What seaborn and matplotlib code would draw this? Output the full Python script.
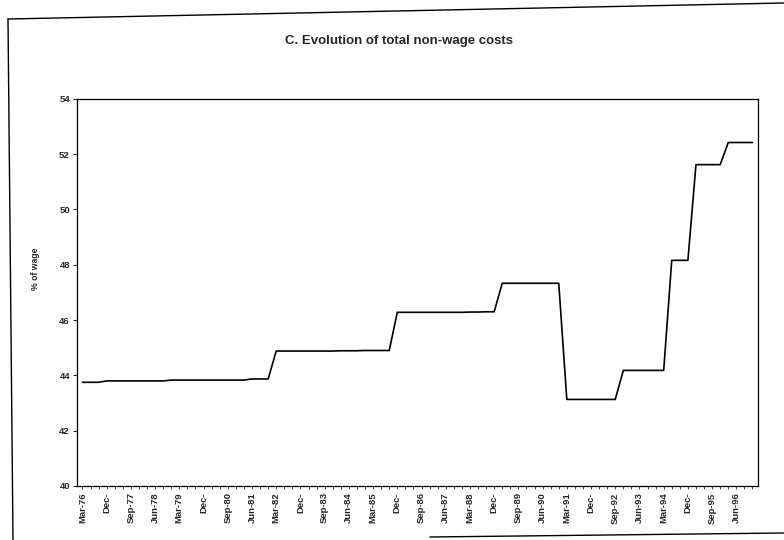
import matplotlib
matplotlib.use('Agg')
import matplotlib.pyplot as plt
import seaborn as sns
import pandas as pd
from matplotlib.lines import Line2D

# labels shown under every third quarter, Mar-76 .. Jun-96
tick_labels = ['Mar-76', 'Dec-', 'Sep-77', 'Jun-78', 'Mar-79', 'Dec-', 'Sep-80',
               'Jun-81', 'Mar-82', 'Dec-', 'Sep-83', 'Jun-84', 'Mar-85', 'Dec-',
               'Sep-86', 'Jun-87', 'Mar-88', 'Dec-', 'Sep-89', 'Jun-90', 'Mar-91',
               'Dec-', 'Sep-92', 'Jun-93', 'Mar-94', 'Dec-', 'Sep-95', 'Jun-96']

# total non-wage costs, % of wage, quarterly Mar-76 .. Dec-96
costs_1976_1981 = [43.75, 43.75, 43.75, 43.80,
                   43.80, 43.80, 43.80, 43.80,
                   43.80, 43.80, 43.80, 43.83,
                   43.83, 43.83, 43.83, 43.83,
                   43.83, 43.83, 43.83, 43.83,
                   43.83, 43.87, 43.87, 43.87]
costs_1982_1987 = [44.88, 44.88, 44.88, 44.88,
                   44.88, 44.88, 44.88, 44.88,
                   44.89, 44.89, 44.89, 44.90,
                   44.90, 44.90, 44.90, 46.28,
                   46.28, 46.28, 46.28, 46.28,
                   46.28, 46.28, 46.28, 46.28]
costs_1988_1993 = [46.29, 46.29, 46.30, 46.30,
                   47.33, 47.33, 47.33, 47.33,
                   47.33, 47.33, 47.33, 47.33,
                   43.13, 43.13, 43.13, 43.13,
                   43.13, 43.13, 43.13, 44.18,
                   44.18, 44.18, 44.18, 44.18]
costs_1994_1996 = [44.18, 48.16, 48.16, 48.16,
                   51.62, 51.62, 51.62, 51.62,
                   52.42, 52.42, 52.42, 52.42]

values = costs_1976_1981 + costs_1982_1987 + costs_1988_1993 + costs_1994_1996
df = pd.DataFrame({'quarter': range(len(values)), 'cost': values})

sns.set_theme(style="ticks")
plt.rcParams['font.family'] = ['Liberation Sans', 'DejaVu Sans']

fig = plt.figure(figsize=(7.84, 5.4), dpi=100)
ax = fig.add_axes([0.098, 0.1, 0.869, 0.717])

sns.lineplot(data=df, x='quarter', y='cost', color='black', linewidth=1.2, ax=ax)

ax.set_xlim(-0.7, 83.7)
ax.set_ylim(40, 54)
ax.set_yticks(range(40, 55, 2))
ax.set_xticks(range(0, len(values)))
labels = [''] * len(values)
for i, lab in enumerate(tick_labels):
    labels[3 * i] = lab
ax.set_xticklabels(labels, rotation=90, fontsize=6.8, fontweight='bold')
ax.tick_params(axis='y', labelsize=6.8, length=3, width=0.8, pad=2)
ax.tick_params(axis='x', length=2.5, width=0.6, pad=2)
for lab in ax.get_yticklabels():
    lab.set_fontweight('bold')

for s in ax.spines.values():
    s.set_visible(True)
    s.set_color('black')
    s.set_linewidth(0.9)

ax.set_xlabel('')
ax.set_ylabel('% of wage', fontsize=6.2, fontweight='bold')
ax.yaxis.set_label_coords(-0.054, 0.56)

fig.text(0.509, 0.924, 'C. Evolution of total non-wage costs', ha='center',
         va='center', fontsize=9.5, fontweight='bold')

# scanned page frame around the chart
fig.add_artist(Line2D([8 / 784, 1.0], [1 - 19 / 540, 1 - 3 / 540], color='black', linewidth=1.0))
fig.add_artist(Line2D([8 / 784, 13 / 784], [1 - 19 / 540, 0.0], color='black', linewidth=1.0))
fig.add_artist(Line2D([430 / 784, 1.0], [1 - 537 / 540, 1 - 533 / 540], color='black', linewidth=1.0))

fig.savefig('out.png', dpi=100)
